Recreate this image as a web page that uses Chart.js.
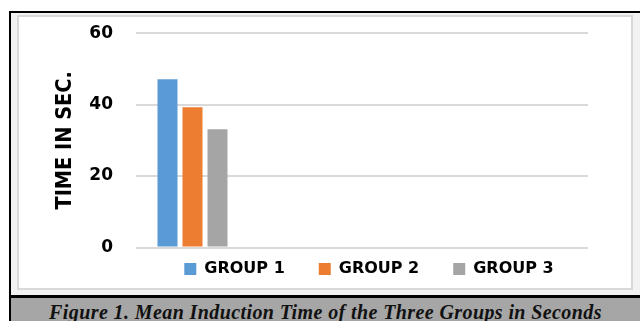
<!DOCTYPE html>
<html>
<head>
<meta charset="utf-8">
<script src="https://cdn.jsdelivr.net/npm/chart.js@4.4.0/dist/chart.umd.min.js"></script>
<style>
  html, body { margin: 0; padding: 0; background: #fff; }
  body { position: relative; width: 640px; height: 321px; overflow: hidden; }
  #frame { position: absolute; left: 9px; top: 11px; width: 640px; height: 320px;
           border-left: 2px solid #000; border-top: 2px solid #000; background: #f2f2f2; }
  #panel { position: absolute; left: 17px; top: 15px; width: 612px; height: 271px;
           border: 2px solid #d9d9d9; background: #fff; }
  #caption { position: absolute; left: 11px; top: 295px; width: 629px; height: 30px;
             border-top: 3px solid #000; background: #a6a6a6; }
  #caption span { display: block; text-align: center; padding-top: 4px; letter-spacing: 0.4px;
                  font: italic bold 20px/20px "Liberation Serif", serif; color: #111; white-space: nowrap; }
  #chart { position: absolute; left: 0; top: 0; }
</style>
</head>
<body>
<div id="frame"></div>
<div id="panel"></div>
<div id="caption"><span>Figure 1. Mean Induction Time of the Three Groups in Seconds</span></div>
<canvas id="chart" width="640" height="321"></canvas>
<script>
// Mean induction time (seconds) per group; only the first category slot holds values.
const categories = ['Mean induction time', '', '', ''];
const groupNames = ['GROUP 1', 'GROUP 2', 'GROUP 3'];
const group1 = [47.1, null, null, null];
const group2 = [39.3, null, null, null];
const group3 = [33.1, null, null, null];
const yTicks = [0, 20, 40, 60];
const yTitle = 'TIME IN SEC.';

const groupColors = ['#5b9bd5', '#ed7d31', '#a5a5a5'];
const tickFont = { family: '"DejaVu Sans", sans-serif', weight: 'bold', size: 17 };
const legendFont = { family: '"DejaVu Sans", sans-serif', weight: 'bold', size: 16 };

// Moves the legend row to a given centre x and text middle y.
const legendPlacement = {
  id: 'legendPlacement',
  afterLayout(chart, args, opts) {
    const lg = chart.legend;
    if (!lg) return;
    const dx = opts.centerX - (lg.left + lg.right) / 2;
    lg.left += dx; lg.right += dx;
    const pad = lg.options.labels.padding;
    const h = lg.bottom - lg.top;
    lg.top = opts.textY - pad - lg.options.labels.font.size / 2;
    lg.bottom = lg.top + h;
  }
};

const seriesValues = [group1, group2, group3];

new Chart(document.getElementById('chart'), {
  type: 'bar',
  data: {
    labels: categories,
    datasets: seriesValues.map((vals, i) => ({
      label: groupNames[i],
      data: vals,
      backgroundColor: groupColors[i],
      borderWidth: 0,
      categoryPercentage: 0.664,
      barPercentage: 0.8
    }))
  },
  options: {
    responsive: false,
    animation: false,
    devicePixelRatio: 1,
    layout: { padding: { left: 46, right: 52, top: 31, bottom: 13.5 } },
    plugins: {
      legend: {
        position: 'bottom',
        labels: { boxWidth: 12, boxHeight: 12, padding: 34, color: '#000', font: legendFont }
      },
      tooltip: { enabled: false },
      legendPlacement: { centerX: 369, textY: 269 }
    },
    scales: {
      x: { display: false },
      y: {
        min: 0,
        max: 60,
        afterBuildTicks(scale) { scale.ticks = yTicks.map(v => ({ value: v })); },
        afterFit(scale) { scale.width = 90; },
        ticks: { padding: 23, color: '#000', font: tickFont },
        grid: { color: '#d9d9d9', lineWidth: 2, drawTicks: false },
        border: { display: false },
        title: {
          display: true,
          text: yTitle,
          color: '#000',
          padding: { top: 6.5, bottom: 4 },
          font: { family: '"DejaVu Sans Condensed", "DejaVu Sans", sans-serif', weight: 'bold', size: 21.5 }
        }
      }
    }
  },
  plugins: [legendPlacement]
});
</script>
</body>
</html>
